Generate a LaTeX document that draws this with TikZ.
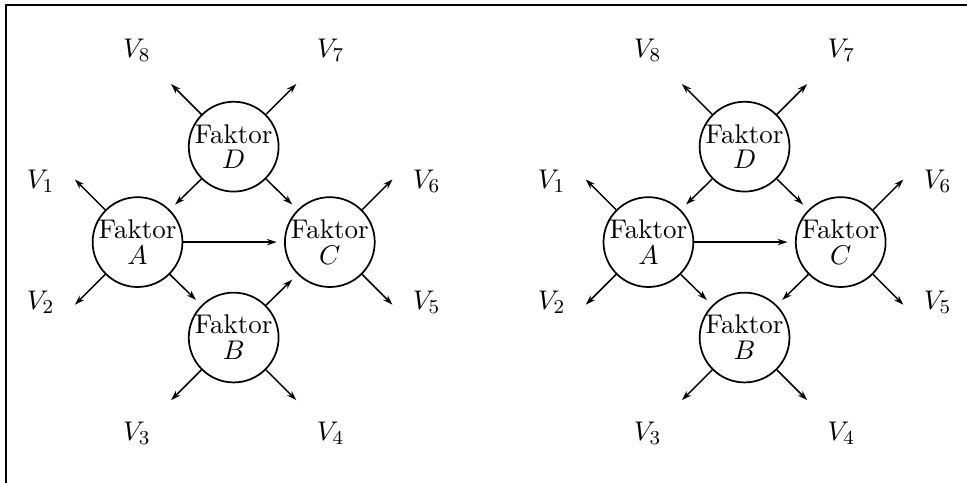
\documentclass[tikz,border=0pt]{standalone}
\usepackage{amsmath}
\usepackage{tikz}
\usetikzlibrary{arrows.meta}

\begin{document}
\begin{tikzpicture}[x=1cm, y=1cm, font=\fontsize{10.95}{13}\selectfont,
    >={Stealth[length=4pt, width=2.6pt]}, line width=0.6pt,
    faktor/.style={circle, draw, line width=0.7pt, minimum size=1.28cm, inner sep=0pt, align=center}]
    \useasboundingbox (0,0) rectangle (13.78,6.88);
    % Frame: only the top and the left rule are drawn.
    \draw[line width=0.9pt] (0.085,0) -- (0.085,6.81) -- (13.78,6.81);
    % Two variants: B -> C on the left, C -> B on the right.
    \foreach \s/\cx/\p/\pa/\q/\qa in {l/3.33/B/45/C/225, r/10.61/C/225/B/45} {
      \begin{scope}[shift={(\cx,3.43)}]
        \node[faktor] (\s A) at (-1.37,0) {Faktor\\[-2.5pt]$A$};
        \node[faktor] (\s C) at (1.37,0) {Faktor\\[-2.5pt]$C$};
        \node[faktor] (\s D) at (0,1.36) {Faktor\\[-2.5pt]$D$};
        \node[faktor] (\s B) at (0,-1.36) {Faktor\\[-2.5pt]$B$};
        \draw[->, shorten >=3pt] (\s D.225) -- (\s A.45);
        \draw[->, shorten >=3pt] (\s D.315) -- (\s C.135);
        \draw[->, shorten >=3pt] (\s A.east) -- (\s C.west);
        \draw[->, shorten >=3pt] (\s A.315) -- (\s B.135);
        \draw[->, shorten >=3pt] (\s\p.\pa) -- (\s\q.\qa);
        % Outgoing arrows to the variables.
        \foreach \n/\a/\i/\lx/\ly in {D/135/8/-1.38/1.37, D/45/7/1.38/1.37,
            A/135/1/-1.38/0.86, A/225/2/-1.38/-0.86, B/225/3/-1.38/-1.37,
            B/315/4/1.38/-1.37, C/315/5/1.38/-0.86, C/45/6/1.38/0.86} {
          \draw[->] (\s\n.\a) -- ++(\a:0.61) coordinate (\s e\i);
          \path (\s\n) ++(\lx,\ly) node (\s V\i) {$V_{\i}$};
        }
      \end{scope}
    }
  \end{tikzpicture}
\end{document}
